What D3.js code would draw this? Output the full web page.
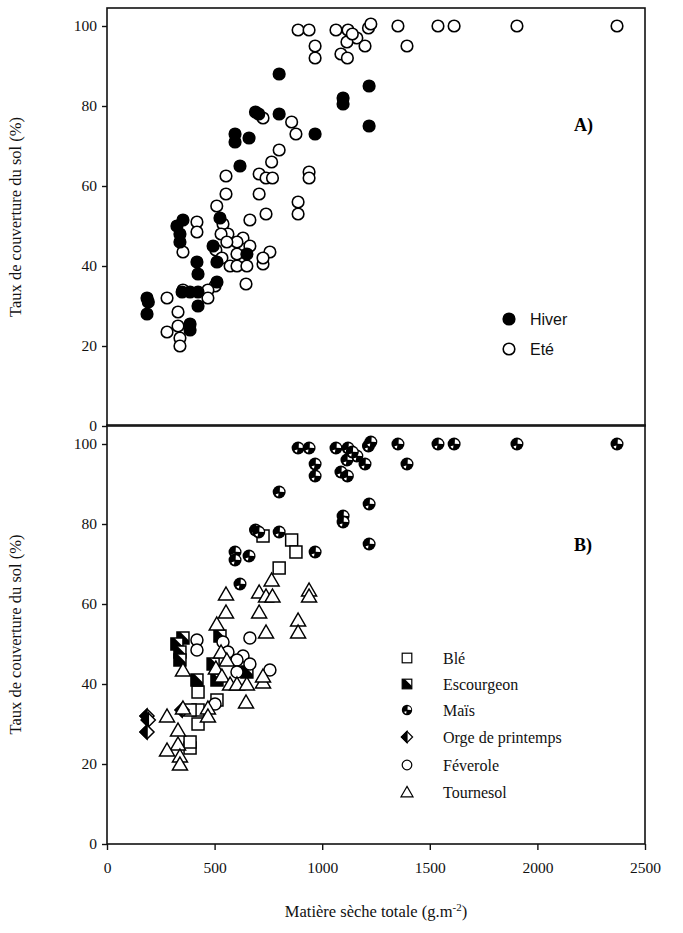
<!DOCTYPE html>
<html><head><meta charset="utf-8">
<script src="https://cdn.jsdelivr.net/npm/d3@7"></script>
<style>body{margin:0;background:#fff}svg{display:block}</style>
</head><body>
<script>
// ---- data: [dry matter g/m2, cover %, season (H=Hiver, E=Eté)] ----
const crops = ["Blé","Escourgeon","Maïs","Orge de printemps","Féverole","Tournesol"];
const seasons = ["Hiver","Eté"];
const xTicks = [0,500,1000,1500,2000,2500];
const yTicks = [0,20,40,60,80,100];

const ble = [[725,77,"E"],[858,76,"E"],[878,73,"E"],[800,69,"E"],[423,38,"H"],[423,33.5,"H"],[423,30,"H"],[511,36,"H"],[386,24,"H"],[386,25.5,"H"],[386,33.5,"H"]];
const escourgeon = [[353,51.5,"H"],[325,50,"H"],[339,48,"H"],[339,46,"H"],[418,41,"H"],[525,52,"H"],[493,45,"H"],[511,41,"H"],[650,43,"H"]];
const mais = [[888,99,"E"],[939,99,"E"],[967,95,"E"],[967,92,"E"],[1064,99,"E"],[1120,99,"E"],[1161,97,"E"],[1115,96,"E"],[1199,95,"E"],[1087,93,"E"],[1117,92,"E"],[1140,98,"E"],[1215,99.5,"E"],[1226,100.5,"E"],[1352,100,"E"],[1538,100,"E"],[1613,100,"E"],[1905,100,"E"],[2370,100,"E"],[1394,95,"E"],
  [800,88,"H"],[1218,85,"H"],[1097,82,"H"],[1097,80.5,"H"],[1218,75,"H"],[690,78.5,"H"],[705,78,"H"],[800,78,"H"],[967,73,"H"],[595,73,"H"],[595,71,"H"],[660,72,"H"],[618,65,"H"]];
const orge = [[186,32,"H"],[192,31,"H"],[186,28,"H"],[349,33.5,"H"]];
const feverole = [[418,51,"E"],[418,48.5,"E"],[664,51.5,"E"],[539,50.5,"E"],[632,47,"E"],[664,45,"E"],[757,43.5,"E"],[604,46,"E"],[562,48,"E"],[502,35,"E"],[604,43,"E"]];
const tournesol = [[765,66,"E"],[553,62.5,"E"],[707,63,"E"],[739,62,"E"],[769,62,"E"],[939,63.5,"E"],[939,62,"E"],[553,58,"E"],[707,58,"E"],[510,55,"E"],[888,56,"E"],[888,53,"E"],[739,53,"E"],
  [530,48,"E"],[557,46,"E"],[506,44,"E"],[534,42,"E"],[572,40,"E"],[604,40,"E"],[650,40,"E"],[725,40.5,"E"],[725,42,"E"],[646,35.5,"E"],[353,43.5,"E"],
  [279,32,"E"],[330,28.5,"E"],[330,25,"E"],[279,23.5,"E"],[339,22,"E"],[339,20,"E"],[353,34,"E"],[469,34,"E"],[469,32,"E"]];

const cropData = [ble, escourgeon, mais, orge, feverole, tournesol];

// ---- layout ----
const W = 683, H = 933;
const svg = d3.select("body").append("svg").attr("width", W).attr("height", H);
const serif = "'Liberation Serif','Times New Roman',serif";
const x = d3.scaleLinear().domain([0,2500]).range([107,645]);
const yA = d3.scaleLinear().domain([0,100]).range([426,26]);
const yB = d3.scaleLinear().domain([0,100]).range([844,444]);

function frame(y, top, withX){
  const g = svg.append("g");
  g.append("rect").attr("x", x(0)).attr("y", y(top)).attr("width", x(2500)-x(0)).attr("height", y(0)-y(top))
    .attr("fill","none").attr("stroke","#111").attr("stroke-width",1.6);
  const ya = g.append("g").attr("transform",`translate(${x(0)},0)`)
    .call(d3.axisLeft(y).tickValues(yTicks).tickSize(5).tickPadding(5).tickFormat(d3.format("d")));
  ya.select(".domain").remove();
  ya.selectAll("line").attr("stroke","#111").attr("stroke-width",1.4);
  ya.selectAll("text").attr("font-family",serif).attr("font-size",15.5).attr("fill","#111");
  if (withX){
    const xa = g.append("g").attr("transform",`translate(0,${y(0)})`)
      .call(d3.axisBottom(x).tickValues(xTicks).tickSize(6).tickPadding(12).tickFormat(d3.format("d")));
    xa.select(".domain").remove();
    xa.selectAll("line").attr("stroke","#111").attr("stroke-width",1.4);
    xa.selectAll("text").attr("font-family",serif).attr("font-size",15.5).attr("fill","#111");
  }
  g.append("text").attr("transform",`translate(21,${(y(0)+y(top))/2}) rotate(-90)`)
    .attr("text-anchor","middle").attr("font-family",serif).attr("font-size",16.5).attr("fill","#111")
    .text("Taux de couverture du sol (%)");
}
frame(yA, 104.5, false);
frame(yB, 104.75, true);

// ---- panel A ----
const gA = svg.append("g");
const allPts = cropData.flat();
const drawA = (code) => gA.selectAll(null).data(allPts.filter(d=>d[2]===code)).join("circle")
  .attr("cx", d=>x(d[0])).attr("cy", d=>yA(d[1])).attr("r", 5.8)
  .attr("fill", code==="H" ? "#000" : "#fff").attr("stroke","#000").attr("stroke-width",1.6);
drawA("E"); drawA("H");

// legend A
const sans = "'Liberation Sans',Arial,sans-serif";
[["H",319,"Hiver"],["E",349,"Eté"]].forEach(([c,yy,t])=>{
  svg.append("circle").attr("cx",509).attr("cy",yy).attr("r",5.8).attr("fill",c==="H"?"#000":"#fff").attr("stroke","#000").attr("stroke-width",1.6);
  svg.append("text").attr("x",530).attr("y",yy+6).attr("font-family",sans).attr("font-size",16).attr("fill","#111").text(t);
});
svg.append("text").attr("x",574).attr("y",131).attr("font-family",serif).attr("font-weight","bold").attr("font-size",18).text("A)");
svg.append("text").attr("x",574).attr("y",551).attr("font-family",serif).attr("font-weight","bold").attr("font-size",18).text("B)");

// ---- panel B markers ----
function marker(g, i){
  const sw = 1.5;
  if (i===0){ // Blé
    g.append("rect").attr("x",-6).attr("y",-6).attr("width",12).attr("height",12).attr("fill","#fff").attr("stroke","#000").attr("stroke-width",sw);
  } else if (i===1){ // Escourgeon
    g.append("rect").attr("x",-6).attr("y",-6).attr("width",12).attr("height",12).attr("fill","#fff").attr("stroke","#000").attr("stroke-width",sw);
    g.append("path").attr("d","M-6,-6L-6,6L6,6L6,2.5L-2.5,-6Z").attr("fill","#000");
  } else if (i===2){ // Maïs
    g.append("circle").attr("r",6.5).attr("fill","#000");
    g.append("path").attr("d",d3.arc()({innerRadius:0,outerRadius:4.6,startAngle:0.05,endAngle:1.6})).attr("transform","translate(0.6,-0.2)").attr("fill","#fff");
    g.append("path").attr("d",d3.arc()({innerRadius:0,outerRadius:3,startAngle:3.3,endAngle:4.5})).attr("transform","translate(-0.6,1.6)").attr("fill","#fff");
  } else if (i===3){ // Orge
    g.append("path").attr("d","M0,-7L7,0L0,7L-7,0Z").attr("fill","#fff").attr("stroke","#000").attr("stroke-width",sw);
    g.append("path").attr("d","M0,-7L0,7L-7,0Z").attr("fill","#000").attr("stroke","#000").attr("stroke-width",sw);
  } else if (i===4){ // Féverole
    g.append("circle").attr("r",6).attr("fill","#fff").attr("stroke","#000").attr("stroke-width",sw);
  } else { // Tournesol
    g.append("path").attr("d","M0,-7L7.5,6L-7.5,6Z").attr("fill","#fff").attr("stroke","#000").attr("stroke-width",sw);
  }
}
const gB = svg.append("g");
cropData.forEach((arr,i)=>{
  arr.forEach(d=>{
    const g = gB.append("g").attr("transform",`translate(${x(d[0])},${yB(d[1])})`);
    marker(g,i);
  });
});

// legend B
const legY = [658,684,710,737,765,792];
crops.forEach((c,i)=>{
  const g = svg.append("g").attr("transform",`translate(407,${legY[i]}) scale(0.8)`);
  marker(g,i);
  svg.append("text").attr("x",443).attr("y",legY[i]+6).attr("font-family",serif).attr("font-size",16).attr("fill","#111").text(c);
});

// x title
const xt = svg.append("text").attr("x",376).attr("y",917).attr("text-anchor","middle").attr("font-family",serif).attr("font-size",16.5).attr("fill","#111");
xt.append("tspan").text("Matière sèche totale (g.m");
xt.append("tspan").attr("dy",-6).attr("font-size",11).text("-2");
xt.append("tspan").attr("dy",6).text(")");
</script>
</body></html>
